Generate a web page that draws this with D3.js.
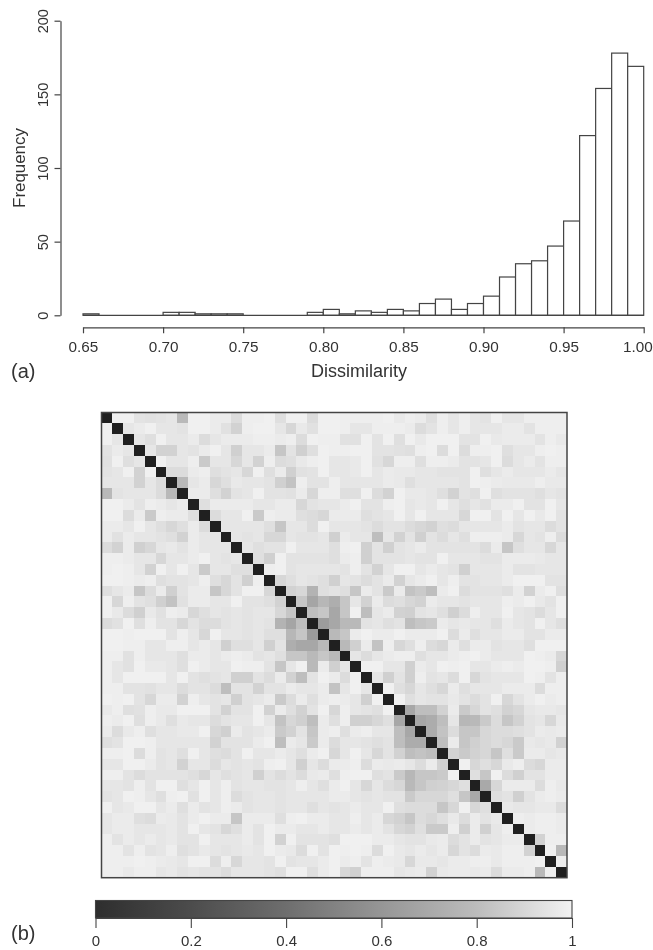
<!DOCTYPE html>
<html>
<head>
<meta charset="utf-8">
<script src="https://cdn.jsdelivr.net/npm/d3@7"></script>
<style>
  html, body { margin: 0; padding: 0; background: #fff; }
  svg { display: block; filter: blur(0.4px); }
  text { font-family: "Liberation Sans", Arial, sans-serif; fill: #333; }
</style>
</head>
<body>
<svg id="fig" width="653" height="950"></svg>
<script>
// histogram of pairwise dissimilarity, bins are 0.01 wide
const histStarts = [0.65, 0.66, 0.67, 0.68, 0.69, 0.70, 0.71, 0.72, 0.73, 0.74, 0.75, 0.76,
  0.77, 0.78, 0.79, 0.80, 0.81, 0.82, 0.83, 0.84, 0.85, 0.86, 0.87, 0.88, 0.89, 0.90, 0.91,
  0.92, 0.93, 0.94, 0.95, 0.96, 0.97, 0.98, 0.99];
const histCounts = [1, 0, 0, 0, 0, 2, 2, 1, 1, 1, 0, 0, 0, 0, 2, 4, 1, 3, 2, 4, 3, 8, 11, 4, 8,
  13, 26, 35, 37, 47, 64, 122, 154, 178, 169];
const xTicks = [0.65, 0.70, 0.75, 0.80, 0.85, 0.90, 0.95, 1.00];
const yTicks = [0, 50, 100, 150, 200];
const barTicks = [0, 0.2, 0.4, 0.6, 0.8, 1];

// colour ramps, the bar starts a bit lighter than the diagonal cells
const rampValues = [0, 0.2, 0.4, 0.6, 0.8, 1];
const rampGrays = [32, 74, 104, 144, 190, 240];
const barGrays = [46, 76, 110, 150, 188, 242];

// upper triangle of the symmetric matrix, in hundredths, row i holds columns i+1..42
const upperRows = [
  [100,100,95,94,95,96,78,100,100,98,98,92,99,99,100,93,100,100,92,100,100,99,99,99,99,100,97,99,98,93,99,96,99,96,95,100,96,96,99,99,99,99],
  [96,98,100,96,96,95,100,100,98,94,88,99,100,100,96,90,97,94,100,100,99,96,96,99,99,99,98,92,95,99,96,99,96,96,96,98,98,95,99,99,99],
  [96,93,100,96,96,98,92,96,98,98,98,99,99,98,99,92,100,99,99,94,94,100,95,100,93,100,97,100,100,100,95,95,100,97,98,98,98,95,99,97],
  [96,88,88,96,95,98,100,96,87,96,96,98,83,95,87,93,100,99,99,100,100,95,95,94,93,99,100,92,100,92,99,99,100,93,96,96,99,100,99],
  [100,96,96,99,85,96,96,90,96,88,99,92,93,97,99,100,96,96,97,100,94,90,99,99,93,99,99,98,95,95,96,100,92,96,98,95,99,99],
  [92,92,98,99,93,95,96,90,100,93,98,87,94,95,100,96,96,97,100,96,98,97,97,96,96,95,95,95,100,93,96,98,96,96,96,98,96],
  [78,96,98,90,93,97,96,96,95,87,82,99,95,95,99,96,96,96,96,98,97,93,96,96,96,96,95,100,99,98,97,97,97,99,97,97],
  [98,98,93,88,95,96,100,95,95,94,98,90,99,99,93,93,100,92,88,100,97,97,96,93,88,95,93,100,93,95,95,95,93,96,95],
  [93,98,98,98,98,96,96,98,98,90,95,96,96,98,100,95,95,99,100,96,97,96,100,96,93,96,94,98,98,100,95,95,100,96],
  [92,96,96,100,85,99,98,98,93,92,90,98,98,98,93,95,96,100,96,100,96,96,96,90,100,100,95,100,96,100,97,100,95],
  [96,96,96,96,93,83,96,96,92,100,96,96,96,95,92,95,95,92,90,88,93,92,96,96,96,96,98,95,96,96,92,95],
  [96,95,96,90,90,96,95,95,96,87,98,96,96,80,96,88,95,87,95,92,96,93,99,99,99,98,90,96,95,99,92],
  [96,93,95,95,100,96,96,96,93,99,100,87,95,87,95,96,98,95,95,95,95,95,92,98,83,93,96,96,90,96],
  [93,87,100,95,95,95,95,93,98,99,87,95,95,95,96,95,95,100,96,96,96,95,95,98,98,98,97,96,96],
  [99,100,95,96,96,96,96,95,99,95,88,96,100,100,96,98,96,95,87,96,96,96,98,95,95,96,96,96],
  [90,93,96,95,93,87,96,95,92,95,98,88,96,98,100,96,99,95,95,96,96,98,100,100,100,95,95],
  [88,90,75,93,95,93,83,98,95,85,98,82,85,80,98,100,92,95,95,95,93,98,88,98,100,93],
  [83,69,77,73,83,96,88,98,92,93,90,88,98,96,96,95,96,96,96,99,98,100,97,95,100],
  [80,83,70,83,100,80,96,98,88,87,95,96,93,87,92,99,96,96,100,96,95,92,96,100],
  [65,70,78,78,95,96,93,95,80,83,85,98,96,97,96,96,93,98,96,95,100,96,93],
  [78,83,98,100,98,98,100,98,98,98,100,92,98,93,96,96,98,98,95,95,98,98],
  [78,87,98,82,99,90,93,99,92,90,98,93,98,98,95,96,96,93,100,100,100],
  [96,92,96,98,99,99,93,96,96,98,99,100,98,96,96,96,100,99,98,90],
  [100,100,96,96,87,98,96,100,99,100,96,96,98,99,98,100,100,99,87],
  [96,87,95,87,99,95,96,92,100,90,95,96,96,96,100,99,95,99],
  [100,93,90,96,93,90,98,93,96,96,96,98,98,98,92,99,99],
  [100,93,96,95,95,97,95,92,95,100,90,95,98,100,98,99],
  [70,80,80,88,98,85,90,95,93,88,90,96,97,97,96],
  [70,72,80,96,77,78,85,92,83,88,95,96,90,97],
  [72,82,92,83,83,90,92,92,93,95,98,97,98],
  [80,98,83,87,90,92,90,85,97,96,97,88],
  [88,85,88,90,83,93,85,98,98,96,97],
  [100,90,93,90,97,99,92,90,98,98],
  [93,83,100,92,87,95,95,98,98],
  [71,90,98,98,98,92,99,97],
  [93,95,87,95,98,99,98],
  [97,96,96,97,97,92],
  [99,98,99,99,98],
  [98,99,99,98],
  [88,99,99],
  [100,78],
  [99],
  []
];

const INK = '#444';
const svg = d3.select('#fig');

// (a) histogram
const histX = d3.scaleLinear().domain([0.65, 1.0]).range([83, 643.7]);
const histY = d3.scaleLinear().domain([0, 200]).range([315.3, 20.7]);

svg.append('g').selectAll('rect')
  .data(histStarts)
  .join('rect')
  .attr('x', d => histX(d))
  .attr('width', d => histX(d + 0.01) - histX(d))
  .attr('y', (d, i) => histY(histCounts[i]))
  .attr('height', (d, i) => histY(0) - histY(histCounts[i]))
  .attr('fill', '#fff')
  .attr('stroke', INK)
  .attr('stroke-width', 1.2);

// empty bins have no height, R still draws their line
svg.append('line')
  .attr('x1', histX(0.65)).attr('x2', histX(1.0))
  .attr('y1', histY(0)).attr('y2', histY(0))
  .attr('stroke', INK).attr('stroke-width', 1.2);

const xAxis = svg.append('g')
  .attr('transform', 'translate(0,327.3)')
  .call(d3.axisBottom(histX).tickValues(xTicks).tickFormat(d3.format('.2f')).tickSize(6).tickSizeOuter(0).tickPadding(8));
const yAxis = svg.append('g')
  .attr('transform', 'translate(60.5,0)')
  .call(d3.axisLeft(histY).tickValues(yTicks).tickSize(6).tickSizeOuter(0));

[xAxis, yAxis].forEach(a => {
  a.selectAll('path, line').attr('stroke', INK).attr('stroke-width', 1.2);
  a.selectAll('text').attr('fill', '#333');
});
xAxis.selectAll('text').style('font-size', '15.3px');
// last label is pushed in from the page edge like in the figure
xAxis.selectAll('.tick:last-of-type text').attr('text-anchor', 'end').attr('x', 8.6);
// R style rotated y labels
yAxis.selectAll('text')
  .style('font-size', '14.6px')
  .attr('text-anchor', 'middle')
  .attr('dy', 0)
  .attr('x', 0)
  .attr('y', 0)
  .attr('transform', 'translate(-12.5,0) rotate(-90)');

svg.append('text').attr('x', 359).attr('y', 377).attr('text-anchor', 'middle')
  .style('font-size', '18px').text('Dissimilarity');
svg.append('text').attr('transform', 'translate(25,168) rotate(-90)').attr('text-anchor', 'middle')
  .style('font-size', '16.9px').text('Frequency');
svg.append('text').attr('x', 11).attr('y', 378).style('font-size', '20px').text('(a)');
svg.append('text').attr('x', 11).attr('y', 940).style('font-size', '20px').text('(b)');

// (b) dissimilarity matrix
const toColor = g => { const c = Math.round(g); return `rgb(${c},${c},${c})`; };
const gray = d3.scaleLinear().domain(rampValues).range(rampGrays);
const barGray = d3.scaleLinear().domain(rampValues).range(barGrays);

const cells = [];
upperRows.forEach((row, i) => {
  cells.push({ i: i, j: i, v: 0 });
  row.forEach((val, k) => {
    const j = i + 1 + k;
    cells.push({ i: i, j: j, v: val / 100 });
    cells.push({ i: j, j: i, v: val / 100 });
  });
});

const index = d3.range(upperRows.length);
const cellX = d3.scaleBand().domain(index).range([101.5, 567]);
const cellY = d3.scaleBand().domain(index).range([412.5, 877.7]);

svg.append('g').attr('shape-rendering', 'crispEdges').selectAll('rect')
  .data(cells)
  .join('rect')
  .attr('x', d => cellX(d.j))
  .attr('y', d => cellY(d.i))
  .attr('width', cellX.bandwidth())
  .attr('height', cellY.bandwidth())
  .attr('fill', d => toColor(gray(d.v)));

svg.append('rect')
  .attr('x', 101.5).attr('y', 412.5)
  .attr('width', 567 - 101.5).attr('height', 877.7 - 412.5)
  .attr('fill', 'none').attr('stroke', INK).attr('stroke-width', 1.5);

// colour bar
const barX = d3.scaleLinear().domain([0, 1]).range([95.5, 572]);
const grad = svg.append('defs').append('linearGradient').attr('id', 'ramp');
grad.selectAll('stop')
  .data(rampValues)
  .join('stop')
  .attr('offset', d => d)
  .attr('stop-color', d => toColor(barGray(d)));

svg.append('rect')
  .attr('x', barX(0)).attr('y', 900.5)
  .attr('width', barX(1) - barX(0)).attr('height', 17.5)
  .attr('fill', 'url(#ramp)').attr('stroke', INK).attr('stroke-width', 1.1);

const barAxis = svg.append('g')
  .attr('transform', 'translate(0,918)')
  .call(d3.axisBottom(barX).tickValues(barTicks).tickFormat(d3.format('~g')).tickSize(10).tickSizeOuter(0).tickPadding(7));
barAxis.selectAll('path, line').attr('stroke', INK).attr('stroke-width', 1.1);
barAxis.selectAll('text').attr('fill', '#333').style('font-size', '15px');
</script>
</body>
</html>
